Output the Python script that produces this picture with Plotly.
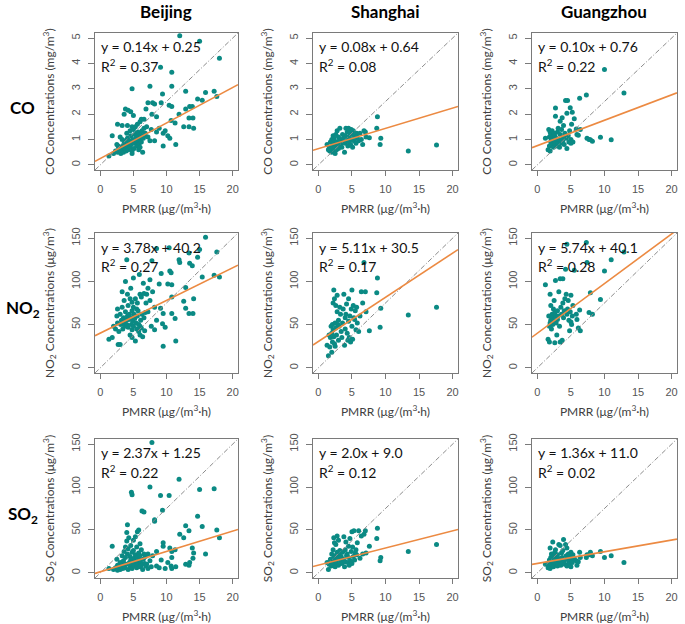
import plotly.graph_objects as go

# PMRR (x) and pollutant concentrations (y)
bj_pmrr = [1.3, 1.8, 2.0, 2.3, 2.5, 2.6, 2.6, 2.7, 2.8, 3.0, 3.0, 3.1, 3.2, 3.3, 3.3, 3.4, 3.5, 3.6, 3.6, 3.7,
           3.8, 3.8, 3.9, 4.0, 4.0, 4.1, 4.1, 4.2, 4.2, 4.3, 4.4, 4.5, 4.5, 4.6, 4.6, 4.7, 4.8, 4.8, 4.8, 4.8,
           4.9, 5.0, 5.0, 5.0, 5.1, 5.2, 5.3, 5.3, 5.4, 5.5, 5.5, 5.6, 5.6, 5.7, 5.8, 5.8, 5.9, 6.0, 6.0, 6.0,
           6.1, 6.2, 6.2, 6.3, 6.4, 6.5, 6.6, 6.6, 6.7, 6.8, 6.9, 7.0, 7.2, 7.2, 7.5, 7.5, 7.7, 7.8, 7.9, 8.2,
           8.2, 8.5, 8.5, 8.9, 9.1, 9.2, 9.4, 9.5, 9.5, 9.8, 10.2, 10.4, 10.5, 10.7, 10.8, 10.8, 10.8, 11.3, 11.4, 11.9,
           12.0, 12.6, 12.9, 12.9, 13.4, 13.4, 13.5, 13.9, 14.0, 14.1, 14.7, 15.0, 15.4, 15.9, 17.2, 17.6, 18.0]
bj_co = [0.35, 1.15, 0.45, 0.55, 0.80, 0.50, 1.60, 0.75, 0.65, 0.70, 1.10, 0.45, 0.60, 1.00, 1.55, 0.75, 0.50, 0.85, 2.00, 0.65,
         0.95, 2.20, 0.55, 0.75, 1.25, 1.05, 1.55, 0.60, 2.15, 0.85, 0.95, 0.70, 1.35, 1.15, 2.10, 0.80, 0.55, 0.45, 1.50, 3.00,
         1.00, 0.90, 1.40, 1.95, 0.65, 1.20, 0.85, 1.50, 1.05, 0.75, 1.25, 0.95, 1.60, 1.30, 1.10, 0.60, 0.85, 1.00, 0.70, 1.70,
         1.20, 0.90, 1.80, 1.35, 0.50, 1.05, 1.45, 1.80, 1.15, 1.25, 2.20, 1.50, 1.10, 2.45, 0.95, 3.10, 1.40, 2.00, 2.45, 2.40,
         0.95, 1.30, 1.90, 1.45, 3.85, 2.45, 2.80, 1.25, 0.75, 1.35, 1.15, 2.35, 1.05, 1.75, 3.65, 3.10, 2.30, 1.65, 0.80, 2.00,
         5.09, 1.50, 2.90, 2.20, 1.85, 1.50, 2.30, 2.30, 1.85, 1.45, 2.60, 4.88, 2.55, 2.85, 2.90, 2.70, 4.20]
bj_no2 = [33, 35, 48, 45, 60, 52, 68, 27, 42, 27, 62, 50, 55, 70, 88, 45, 58, 52, 78, 48,
          65, 100, 55, 50, 125, 60, 85, 47, 72, 56, 62, 38, 80, 58, 92, 50, 44, 35, 66, 76,
          54, 48, 104, 70, 62, 57, 31, 80, 52, 45, 68, 60, 75, 66, 50, 42, 108, 48, 38, 85,
          55, 46, 82, 62, 36, 98, 58, 86, 43, 64, 75, 85, 65, 92, 102, 78, 48, 124, 88, 70,
          44, 138, 55, 97, 69, 109, 51, 63, 25, 47, 97, 139, 112, 110, 96, 82, 63, 57, 31, 125,
          122, 77, 69, 93, 63, 133, 121, 118, 63, 80, 128, 137, 105, 151, 107, 134, 105]
bj_so2 = [5, 31, 4, 6, 16, 3, 9, 7, 5, 4, 12, 8, 6, 20, 10, 5, 14, 8, 25, 6,
          18, 30, 10, 47, 37, 56, 22, 4, 28, 41, 12, 7, 19, 32, 15, 94, 91, 9, 24, 5,
          14, 38, 11, 26, 17, 8, 42, 21, 13, 6, 30, 48, 18, 10, 50, 23, 15, 7, 34, 20,
          12, 9, 27, 72, 4, 16, 71, 22, 11, 19, 8, 10, 22, 5, 100, 14, 7, 152, 20, 60,
          62, 8, 25, 6, 90, 15, 73, 35, 31, 5, 12, 90, 29, 8, 25, 5, 18, 27, 7, 109,
          45, 41, 55, 10, 9, 49, 12, 29, 17, 23, 66, 97, 54, 22, 98, 50, 41]

sh_pmrr = [1.3, 1.5, 1.6, 1.7, 1.8, 1.9, 2.0, 2.0, 2.1, 2.1, 2.2, 2.2, 2.3, 2.3, 2.4, 2.4, 2.5, 2.5, 2.6, 2.6,
           2.7, 2.8, 2.8, 2.9, 3.0, 3.0, 3.1, 3.2, 3.3, 3.4, 3.5, 3.6, 3.7, 3.8, 3.9, 4.0, 4.0, 4.1, 4.2, 4.3,
           4.4, 4.5, 4.5, 4.6, 4.7, 4.8, 4.9, 5.0, 5.0, 5.1, 5.2, 5.3, 5.4, 5.5, 5.6, 5.7, 5.8, 6.0, 6.2, 6.4,
           6.6, 6.8, 7.0, 7.1, 7.6, 8.7, 8.8, 9.2, 9.3, 13.4, 17.6]
sh_co = [0.80, 0.60, 0.65, 0.55, 0.90, 0.70, 0.50, 1.00, 0.75, 0.60, 1.15, 0.85, 0.65, 1.05, 0.55, 0.95, 0.70, 0.45, 1.20, 0.80,
         0.60, 0.90, 1.35, 0.75, 1.10, 0.65, 0.95, 1.45, 0.80, 1.00, 0.70, 1.20, 0.90, 1.05, 0.50, 1.15, 0.85, 1.45, 0.95, 1.30,
         0.75, 1.45, 1.10, 0.90, 1.25, 0.80, 1.40, 1.00, 1.20, 0.70, 1.35, 0.95, 1.15, 1.05, 0.85, 1.25, 1.10, 0.95, 1.25, 1.00,
         0.80, 1.35, 1.30, 1.10, 1.07, 1.45, 1.90, 0.80, 1.05, 0.55, 0.78]
sh_no2 = [26, 14, 38, 24, 35, 48, 18, 40, 50, 30, 75, 44, 90, 36, 28, 80, 52, 25, 72, 46,
          38, 65, 84, 50, 55, 32, 48, 70, 62, 42, 35, 52, 68, 85, 26, 45, 58, 62, 74, 40,
          32, 80, 54, 35, 60, 30, 68, 90, 48, 33, 72, 58, 56, 66, 44, 70, 52, 42, 60, 88,
          75, 122, 88, 65, 43, 87, 104, 47, 69, 61, 70]
sh_so2 = [12, 4, 10, 13, 16, 8, 11, 22, 14, 9, 27, 17, 41, 12, 20, 35, 10, 7, 33, 15,
          12, 24, 43, 18, 38, 9, 21, 26, 14, 19, 11, 24, 16, 42, 7, 27, 13, 36, 20, 22,
          12, 18, 31, 9, 40, 14, 25, 48, 11, 30, 19, 49, 15, 23, 27, 21, 35, 49, 17, 43,
          22, 45, 49, 23, 31, 40, 52, 14, 18, 25, 33]

gz_pmrr = [1.2, 1.6, 1.7, 1.8, 1.8, 1.9, 1.9, 2.0, 2.0, 2.1, 2.2, 2.2, 2.3, 2.4, 2.4, 2.5, 2.6, 2.6, 2.7, 2.7,
           2.8, 2.9, 3.0, 3.0, 3.1, 3.2, 3.3, 3.4, 3.4, 3.5, 3.6, 3.7, 3.8, 3.8, 3.9, 4.0, 4.1, 4.2, 4.3, 4.4,
           4.4, 4.5, 4.6, 4.7, 4.8, 4.9, 5.0, 5.0, 5.1, 5.2, 5.3, 5.5, 5.8, 5.9, 6.1, 6.3, 6.4, 7.3, 7.4, 7.7,
           7.9, 8.2, 9.4, 10.0, 11.0, 12.9]
gz_co = [1.05, 0.60, 1.40, 0.75, 1.10, 1.30, 0.55, 0.90, 1.20, 1.00, 0.80, 1.35, 1.10, 0.70, 0.95, 1.25, 0.85, 1.15, 2.24, 1.92,
         1.05, 0.75, 1.30, 0.90, 1.45, 1.00, 0.70, 1.72, 1.20, 0.85, 1.40, 1.86, 1.10, 0.95, 1.55, 0.80, 1.25, 2.54, 1.05, 2.04,
         0.65, 2.54, 1.15, 0.90, 1.35, 2.25, 1.00, 0.85, 1.60, 2.08, 0.90, 1.82, 1.42, 1.20, 1.17, 2.63, 1.40, 2.76, 1.05, 1.00,
         0.99, 0.93, 1.09, 3.76, 0.99, 2.83]
gz_no2 = [96, 33, 60, 30, 48, 85, 52, 55, 72, 45, 62, 58, 50, 68, 55, 78, 29, 64, 101, 60,
          52, 38, 66, 56, 60, 88, 48, 103, 30, 70, 62, 32, 103, 75, 58, 66, 80, 114, 85, 143,
          62, 68, 78, 55, 43, 65, 84, 53, 50, 60, 72, 113, 62, 56, 46, 67, 43, 145, 122, 64,
          87, 62, 79, 112, 125, 134]
gz_so2 = [10, 6, 12, 8, 15, 29, 5, 18, 11, 22, 9, 14, 36, 7, 19, 12, 24, 16, 27, 20,
          10, 13, 8, 21, 17, 33, 11, 32, 15, 9, 23, 18, 12, 26, 39, 14, 10, 33, 20, 29,
          8, 16, 22, 13, 11, 19, 24, 7, 15, 12, 21, 17, 14, 9, 13, 24, 18, 18, 21, 21,
          24, 20, 25, 18, 20, 12]

cities = ["Beijing", "Shanghai", "Guangzhou"]
pmrr = [bj_pmrr, sh_pmrr, gz_pmrr]
co = [bj_co, sh_co, gz_co]
no2 = [bj_no2, sh_no2, gz_no2]
so2 = [bj_so2, sh_so2, gz_so2]

# regression lines printed in each panel: (slope, intercept, R2)
co_fit = [("0.14", "0.25", "0.37"), ("0.08", "0.64", "0.08"), ("0.10", "0.76", "0.22")]
no2_fit = [("3.78", "40.2", "0.27"), ("5.11", "30.5", "0.17"), ("5.74", "40.1", "0.28")]
so2_fit = [("2.37", "1.25", "0.22"), ("2.0", "9.0", "0.12"), ("1.36", "11.0", "0.02")]

row_labels = ["CO", "NO<sub>2</sub>", "SO<sub>2</sub>"]
y_titles = ["CO Concentrations (mg/m<sup>3</sup>)",
            "NO<sub>2</sub> Concentrations (μg/m<sup>3</sup>)",
            "SO<sub>2</sub> Concentrations (μg/m<sup>3</sup>)"]
y_max = [5, 150, 150]
x_title = "PMRR (μg/(m<sup>3</sup>·h)"

TEAL = "#0b8a84"
ORANGE = "#ec8a42"
GREY = "#7a7a7a"
LAB = "Lato, 'Open Sans', sans-serif"
TICK = "'Liberation Sans', Arial, sans-serif"

col_dom = [[0.1387, 0.3474], [0.4569, 0.6686], [0.7766, 0.9883]]
row_dom = [[0.7276, 0.9471], [0.4022, 0.6266], [0.0737, 0.2965]]
xr = [-0.8, 20.8]

fig = go.Figure()
layout = {}
annots = []

for r, (ys, fits) in enumerate([(co, co_fit), (no2, no2_fit), (so2, so2_fit)]):
    ymax = y_max[r]
    yr = [-ymax * 0.04, ymax * 1.04]
    for c in range(3):
        k = r * 3 + c + 1
        xa = "x" if k == 1 else "x%d" % k
        ya = "y" if k == 1 else "y%d" % k
        slope, icpt, r2 = fits[c]

        fig.add_trace(go.Scatter(x=pmrr[c], y=ys[c], mode="markers",
                                 marker=dict(color=TEAL, size=5),
                                 xaxis=xa, yaxis=ya, showlegend=False))
        # 1:1 diagonal across the box
        fig.add_trace(go.Scatter(x=xr, y=[v * ymax / 20 for v in xr], mode="lines",
                                 line=dict(color="#8c8c8c", width=1, dash="5px,2px,1px,2px"),
                                 xaxis=xa, yaxis=ya, showlegend=False))
        fig.add_trace(go.Scatter(x=xr, y=[float(slope) * v + float(icpt) for v in xr],
                                 mode="lines", line=dict(color=ORANGE, width=1.6),
                                 xaxis=xa, yaxis=ya, showlegend=False))

        layout["xaxis" + ("" if k == 1 else str(k))] = dict(
            domain=col_dom[c], anchor=ya, range=xr, tickvals=[0, 5, 10, 15, 20],
            showline=True, mirror=True, linecolor=GREY, linewidth=1,
            ticks="outside", ticklen=5, tickcolor=GREY, showgrid=False, zeroline=False,
            ticklabelstandoff=4,
            tickfont=dict(family=TICK, size=11, color="#555555"),
            title=dict(text=x_title, font=dict(family=LAB, size=12, color="#404040"), standoff=10),
            automargin=False)
        layout["yaxis" + ("" if k == 1 else str(k))] = dict(
            domain=row_dom[r], anchor=xa, range=yr,
            tickvals=[0, 1, 2, 3, 4, 5] if ymax == 5 else [0, 50, 100, 150],
            showline=True, mirror=True, linecolor=GREY, linewidth=1,
            ticks="outside", ticklen=6, tickcolor=GREY, showgrid=False, zeroline=False,
            ticklabelstandoff=4,
            tickangle=-90, tickfont=dict(family=TICK, size=11, color="#555555"),
            title=dict(text=y_titles[r], font=dict(family=LAB, size=12, color="#404040"), standoff=12),
            automargin=False)

        annots.append(dict(xref=xa + " domain", yref=ya + " domain", x=0.03, y=0.9,
                           xanchor="left", yanchor="middle", showarrow=False,
                           text="y = %sx + %s" % (slope, icpt),
                           font=dict(family=LAB, size=14, color="#111111")))
        annots.append(dict(xref=xa + " domain", yref=ya + " domain", x=0.03, y=0.765,
                           xanchor="left", yanchor="middle", showarrow=False,
                           text="R<sup>2</sup> = %s" % r2,
                           font=dict(family=LAB, size=14, color="#111111")))

for c, name in enumerate(cities):
    annots.append(dict(xref="paper", yref="paper", x=sum(col_dom[c]) / 2, y=0.982,
                       xanchor="center", yanchor="middle", showarrow=False,
                       text="<b>%s</b>" % name,
                       font=dict(family=LAB, size=17, color="#000000")))
for r, lab in enumerate(row_labels):
    annots.append(dict(xref="paper", yref="paper", x=0.033, y=sum(row_dom[r]) / 2 - 0.01,
                       xanchor="center", yanchor="middle", showarrow=False,
                       text="<b>%s</b>" % lab,
                       font=dict(family=LAB, size=17, color="#000000")))

fig.update_layout(**layout)
fig.update_layout(width=685, height=624, margin=dict(l=0, r=0, t=0, b=0),
                  plot_bgcolor="white", paper_bgcolor="white",
                  annotations=annots)

# drop the browser's default body margin so the 685x624 figure fills the window
fig.write_html("out.html", config={"displayModeBar": False},
               post_script="document.body.style.margin='0';document.body.style.overflow='hidden';")
